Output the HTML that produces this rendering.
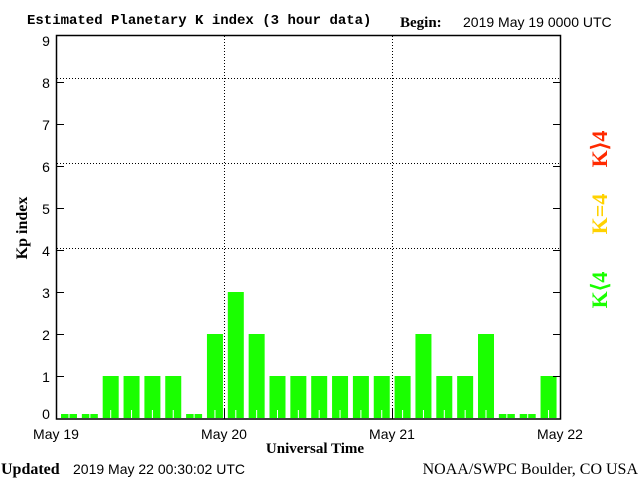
<!DOCTYPE html>
<html><head><style>
html,body{margin:0;padding:0;background:#fff;}
svg{display:block;}
</style></head><body>
<svg width="640" height="480" xmlns="http://www.w3.org/2000/svg">
<rect width="640" height="480" fill="#fff"/>
<text x="27" y="24" font-family="Liberation Mono, monospace" font-weight="bold" font-size="14" fill="#000">Estimated Planetary K index (3 hour data)</text>
<text x="400" y="27" font-family="Liberation Serif, serif" font-weight="bold" font-size="15" fill="#000">Begin:</text>
<text x="463" y="27" font-family="Liberation Sans, sans-serif" font-size="14" fill="#000">2019 May 19 0000 UTC</text>
<g stroke="#000" stroke-width="1" stroke-dasharray="1,2" fill="none">
<line x1="57" y1="78.5" x2="560" y2="78.5"/>
<line x1="57" y1="163.5" x2="560" y2="163.5"/>
<line x1="57" y1="248.5" x2="560" y2="248.5"/>
<line x1="224.5" y1="36" x2="224.5" y2="418"/>
<line x1="392.5" y1="36" x2="392.5" y2="418"/>
</g>
<g fill="#1aff00">
<rect x="61" y="414" width="16" height="4"/>
<rect x="81.85" y="414" width="16" height="4"/>
<rect x="102.7" y="376" width="16" height="42"/>
<rect x="123.55" y="376" width="16" height="42"/>
<rect x="144.4" y="376" width="16" height="42"/>
<rect x="165.25" y="376" width="16" height="42"/>
<rect x="186.1" y="414" width="16" height="4"/>
<rect x="206.95" y="334" width="16" height="84"/>
<rect x="227.8" y="292" width="16" height="126"/>
<rect x="248.65" y="334" width="16" height="84"/>
<rect x="269.5" y="376" width="16" height="42"/>
<rect x="290.35" y="376" width="16" height="42"/>
<rect x="311.2" y="376" width="16" height="42"/>
<rect x="332.05" y="376" width="16" height="42"/>
<rect x="352.9" y="376" width="16" height="42"/>
<rect x="373.75" y="376" width="16" height="42"/>
<rect x="394.6" y="376" width="16" height="42"/>
<rect x="415.45" y="334" width="16" height="84"/>
<rect x="436.3" y="376" width="16" height="42"/>
<rect x="457.15" y="376" width="16" height="42"/>
<rect x="478" y="334" width="16" height="84"/>
<rect x="498.85" y="414" width="16" height="4"/>
<rect x="519.7" y="414" width="16" height="4"/>
<rect x="540.55" y="376" width="16" height="42"/>
</g>
<g fill="#fff">
<rect x="68.5" y="414" width="1" height="4"/><rect x="89.35" y="414" width="1" height="4"/>
<rect x="110.2" y="410" width="1" height="8"/><rect x="131.05" y="410" width="1" height="8"/>
<rect x="151.9" y="410" width="1" height="8"/><rect x="172.75" y="410" width="1" height="8"/>
<rect x="193.6" y="414" width="1" height="4"/><rect x="214.45" y="410" width="1" height="8"/>
<rect x="235.3" y="410" width="1" height="8"/><rect x="256.15" y="410" width="1" height="8"/>
<rect x="277" y="410" width="1" height="8"/><rect x="297.85" y="410" width="1" height="8"/>
<rect x="318.7" y="410" width="1" height="8"/><rect x="339.55" y="410" width="1" height="8"/>
<rect x="360.4" y="410" width="1" height="8"/><rect x="381.25" y="410" width="1" height="8"/>
<rect x="402.1" y="410" width="1" height="8"/><rect x="422.95" y="410" width="1" height="8"/>
<rect x="443.8" y="410" width="1" height="8"/><rect x="464.65" y="410" width="1" height="8"/>
<rect x="485.5" y="410" width="1" height="8"/><rect x="506.35" y="414" width="1" height="4"/>
<rect x="527.2" y="414" width="1" height="4"/><rect x="548.05" y="410" width="1" height="8"/>
</g>
<g stroke="#000" stroke-width="1.5" fill="none">
<rect x="56.5" y="35.5" width="504" height="383.5"/>
</g>
<g stroke="#000" stroke-width="1">
<line x1="57" y1="376.5" x2="64" y2="376.5"/><line x1="553" y1="376.5" x2="560" y2="376.5"/>
<line x1="57" y1="334.5" x2="64" y2="334.5"/><line x1="553" y1="334.5" x2="560" y2="334.5"/>
<line x1="57" y1="292.5" x2="64" y2="292.5"/><line x1="553" y1="292.5" x2="560" y2="292.5"/>
<line x1="57" y1="250.5" x2="64" y2="250.5"/><line x1="553" y1="250.5" x2="560" y2="250.5"/>
<line x1="57" y1="208.5" x2="64" y2="208.5"/><line x1="553" y1="208.5" x2="560" y2="208.5"/>
<line x1="57" y1="166.5" x2="64" y2="166.5"/><line x1="553" y1="166.5" x2="560" y2="166.5"/>
<line x1="57" y1="124.5" x2="64" y2="124.5"/><line x1="553" y1="124.5" x2="560" y2="124.5"/>
<line x1="57" y1="82.5" x2="64" y2="82.5"/><line x1="553" y1="82.5" x2="560" y2="82.5"/>
<line x1="224.5" y1="408" x2="224.5" y2="419"/>
<line x1="392.5" y1="408" x2="392.5" y2="419"/>
</g>
<g font-family="Liberation Sans, sans-serif" font-size="14" fill="#000" text-anchor="middle">
<text x="46" y="419">0</text><text x="46" y="382">1</text><text x="46" y="340">2</text>
<text x="46" y="298">3</text><text x="46" y="256">4</text><text x="46" y="214">5</text>
<text x="46" y="172">6</text><text x="46" y="130">7</text><text x="46" y="88">8</text>
<text x="46" y="46">9</text>
<text x="56" y="439">May 19</text><text x="224" y="439">May 20</text>
<text x="392" y="439">May 21</text><text x="560" y="439">May 22</text>
</g>
<text x="315" y="453" text-anchor="middle" font-family="Liberation Serif, serif" font-weight="bold" font-size="15">Universal Time</text>
<text transform="translate(27,228) rotate(-90)" text-anchor="middle" font-family="Liberation Serif, serif" font-weight="bold" font-size="16">Kp index</text>
<text x="1" y="474" font-family="Liberation Serif, serif" font-weight="bold" font-size="16">Updated</text>
<text x="73" y="474" font-family="Liberation Sans, sans-serif" font-size="14">2019 May 22 00:30:02 UTC</text>
<text x="638" y="474" text-anchor="end" font-family="Liberation Serif, serif" font-size="16">NOAA/SWPC Boulder, CO USA</text>
<g font-family="Liberation Serif, serif" font-weight="bold" font-size="22" text-anchor="middle">
<text transform="translate(607,149) rotate(-90)" fill="#ff2a00">K⟩4</text>
<text transform="translate(607,214) rotate(-90)" fill="#ffd200">K=4</text>
<text transform="translate(607,290) rotate(-90)" fill="#1aff00">K⟨4</text>
</g>
</svg>
</body></html>
